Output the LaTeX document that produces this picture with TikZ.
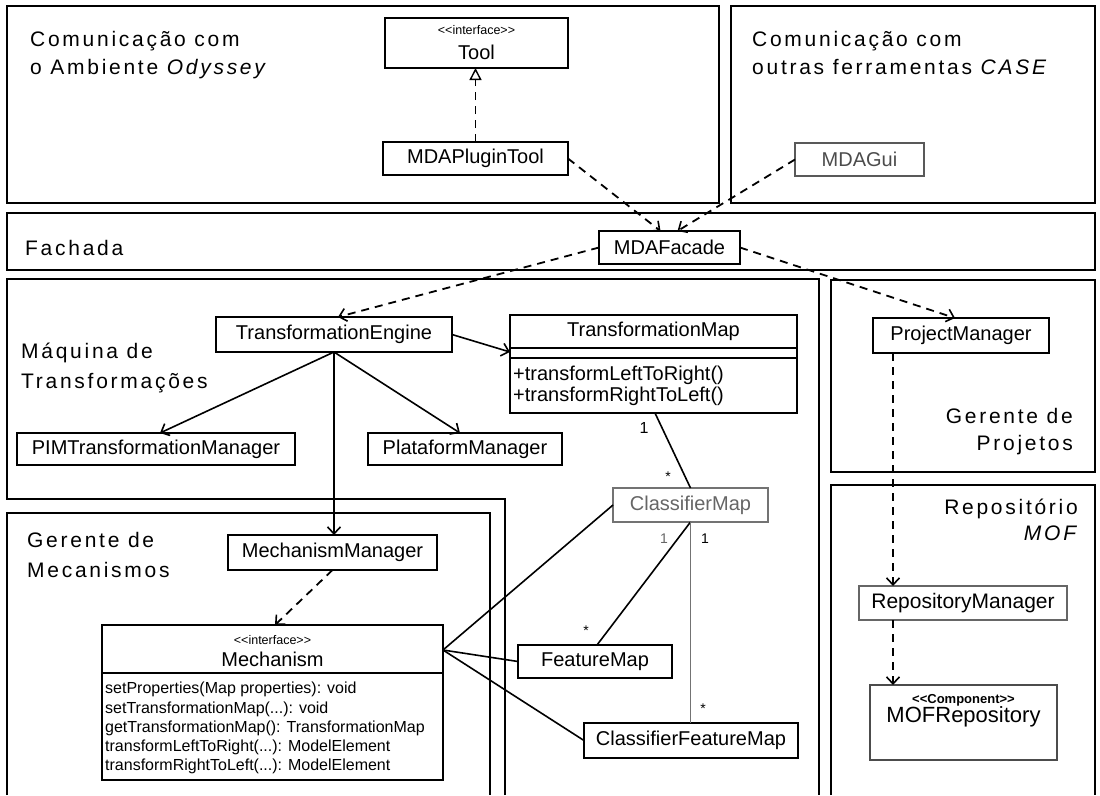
\documentclass[tikz,border=0pt]{standalone}
\usepackage{fontspec}
\setmainfont{Liberation Sans}
\newfontfamily\spacedfont[LetterSpace=13]{Liberation Sans}
\usetikzlibrary{arrows.meta,calc}
\newcommand\hdfont{\spacedfont\fontsize{21}{28}\selectfont}
\newcommand\boxfont{\fontsize{20}{24}\selectfont}
\newcommand\opfont{\fontsize{16}{19}\selectfont}
\newcommand\stereofont{\fontsize{12.5}{14}\selectfont}
% kerns keep the font mapping from merging the brackets into guillemets
\newcommand\stereo[1]{\textless\kern0pt\textless\kern0pt #1\kern0pt\textgreater\kern0pt\textgreater}
\begin{document}
\begin{tikzpicture}[x=1pt,y=-1pt,
  panel/.style={draw=black, line width=1.5pt},
  box/.style={draw=black, fill=white, line width=1.5pt, inner sep=0pt, outer sep=0pt,
              anchor=north west, font=\boxfont},
  hd/.style={inner sep=0pt, font=\hdfont},
  lbl/.style={inner sep=0pt},
  dep/.style={line width=1.8pt, dash pattern=on 8pt off 6pt,
              -{Straight Barb[length=7pt,width=13pt,line width=1.6pt]}},
  real/.style={line width=1.8pt, dash pattern=on 8pt off 6pt,
              -{Triangle[open,length=12pt,width=12pt,line width=1.4pt]}},
  nav/.style={line width=1.6pt, -{Straight Barb[length=7pt,width=13pt,line width=1.6pt]}},
  assoc/.style={line width=1.6pt},
  mult/.style={inner sep=0pt, font=\fontsize{14}{14}\selectfont}]

\fill[white] (0,0) rectangle (1100,795);
\useasboundingbox (0,0) rectangle (1100,795);

% ---- package frames
\draw[panel] (7,6) rectangle (719,203);
\draw[panel] (731,6) rectangle (1095,203);
\draw[panel] (7,213) rectangle (1095,270);
\draw[panel] (505,795) -- (505,499) -- (7,499) -- (7,279) -- (819,279) -- (819,795);
\draw[panel] (7,795) -- (7,513) -- (490,513) -- (490,795);
\draw[panel] (831,280) rectangle (1095,472);
\draw[panel] (831,795) -- (831,485) -- (1095,485) -- (1095,795);

% ---- package titles
\node[hd, anchor=base west] (odyA) at (30,46) {Comunicação com};
\node[hd, anchor=base west] (odyB) at (30,74) {o Ambiente \textit{Odyssey}};
\node[hd, anchor=base west] (caseA) at (752,46) {Comunicação com};
\node[hd, anchor=base west] (caseB) at (752,74) {outras ferramentas \textit{CASE}};
\node[hd, anchor=base west] (fach) at (25,255) {Fachada};
\node[hd, anchor=base west] (maqA) at (21,358) {Máquina de};
\node[hd, anchor=base west] (maqB) at (21,388) {Transformações};
\node[hd, anchor=base west] (gmA) at (27,547) {Gerente de};
\node[hd, anchor=base west] (gmB) at (27,577) {Mecanismos};
\node[hd, anchor=base east] (gpA) at (1073,423) {Gerente de};
\node[hd, anchor=base east] (gpB) at (1073,450) {Projetos};
\node[hd, anchor=base east] (repA) at (1078,514) {Repositório};
\node[hd, anchor=base east] (repB) at (1080,540) {\textit{MOF}};

% ---- classes
\node[box, minimum width=183pt, minimum height=50pt] (tool) at (385,18) {};
\node[lbl, font=\stereofont] (toolst) at (476.5,30) {\stereo{interface}};
\node[lbl, font=\boxfont] (toolnm) at (476.5,52) {Tool};

\node[box, minimum width=185pt, minimum height=33pt] (pt) at (383,142) {MDAPluginTool};
\node[box, minimum width=129pt, minimum height=33pt, draw=black!65, text=black!70] (gui) at (795,143) {MDAGui};
\node[box, minimum width=141pt, minimum height=33pt] (facade) at (599,231) {MDAFacade};
\node[box, minimum width=236pt, minimum height=35pt] (engine) at (216,317) {TransformationEngine};

\node[box, minimum width=287pt, minimum height=98pt] (tmap) at (510,315) {};
\draw[line width=1.2pt] (510,348) -- (797,348);
\draw[line width=1.2pt] (510,358) -- (797,358);
\node[lbl, font=\boxfont] (tmapnm) at (653.5,331) {TransformationMap};
\node[lbl, font=\boxfont, anchor=base west] (tmapop1) at (513,380) {+transformLeftToRight()};
\node[lbl, font=\boxfont, anchor=base west] (tmapop2) at (513,401) {+transformRightToLeft()};

\node[box, minimum width=278pt, minimum height=32pt] (pim) at (17,433) {PIMTransformationManager};
\node[box, minimum width=194pt, minimum height=32pt] (plat) at (368,433) {PlataformManager};
\node[box, minimum width=155pt, minimum height=34pt, draw=black!55, text=black!60] (cmap) at (613,488) {ClassifierMap};
\node[box, minimum width=209pt, minimum height=35pt] (mm) at (228,535) {MechanismManager};

\node[box, minimum width=341pt, minimum height=155pt] (mech) at (102,625) {};
\draw[line width=1.2pt] (102,673) -- (443,673);
\node[lbl, font=\stereofont] (mechst) at (272.5,640) {\stereo{interface}};
\node[lbl, font=\boxfont] (mechnm) at (272.5,659) {Mechanism};
\node[lbl, font=\opfont, anchor=base west] (mop1) at (105,693) {setProperties(Map properties): void};
\node[lbl, font=\opfont, anchor=base west] (mop2) at (105,713) {setTransformationMap(...): void};
\node[lbl, font=\opfont, anchor=base west] (mop3) at (105,732) {getTransformationMap(): TransformationMap};
\node[lbl, font=\opfont, anchor=base west] (mop4) at (105,751) {transformLeftToRight(...): ModelElement};
\node[lbl, font=\opfont, anchor=base west] (mop5) at (105,770) {transformRightToLeft(...): ModelElement};

\node[box, minimum width=154pt, minimum height=33pt] (fmap) at (518,645) {FeatureMap};
\node[box, minimum width=214pt, minimum height=35pt] (cfmap) at (584,723) {ClassifierFeatureMap};

\node[box, minimum width=176pt, minimum height=35pt] (pm) at (873,318) {ProjectManager};
\node[box, minimum width=208pt, minimum height=34pt, draw=black!60, font=\fontsize{21}{24}\selectfont] (rm) at (859,586) {RepositoryManager};
\node[box, minimum width=187pt, minimum height=75pt, draw=black!70] (mof) at (870,685) {};
\node[lbl, font=\bfseries\fontsize{13}{15}\selectfont] (mofst) at (963.5,700) {\stereo{Component}};
\node[lbl, font=\fontsize{22}{24}\selectfont] (mofnm) at (963.5,717) {MOFRepository};

% ---- relations
\draw[real] (pt.north) -- (pt.north |- tool.south);
\draw[dep] (pt.east) -- ($(facade.north)+(-9,0)$);
\draw[dep] (gui.west) -- ($(facade.north)+(8,0)$);
\draw[dep] (facade.west) -- ($(engine.north west)+(122,0)$);
\draw[dep] (facade.east) -- ($(pm.north west)+(82,0)$);
\draw[nav] (engine.east) -- ($(tmap.north west)+(0,37)$);
\draw[nav] (engine.south) -- ($(pim.north west)+(143,0)$);
\draw[nav] (engine.south) -- ($(plat.north west)+(92,0)$);
\draw[nav, line width=1.2pt] (engine.south) -- (engine.south |- mm.north);
\draw[dep] (mm.south) -- ($(mech.north west)+(173,0)$);

\draw[assoc] ($(tmap.south west)+(145,0)$) -- (cmap.north);
\draw[assoc] (cmap.south) -- ($(fmap.north west)+(79,0)$);
\draw[assoc, draw=black!55] (cmap.south) -- (cmap.south |- cfmap.north);
\coordinate (mj) at ($(mech.north east)+(0,25)$);
\draw[assoc] (mj) -- (cmap.west);
\draw[assoc] (mj) -- (fmap.west);
\draw[assoc] (mj) -- (cfmap.west);

\coordinate (pmx) at ($(pm.south west)+(20,0)$);
\draw[dep] (pmx) -- (pmx |- rm.north);
\draw[dep] (pmx |- rm.south) -- (pmx |- mof.north);

% ---- multiplicities
\node[mult, font=\fontsize{16}{16}\selectfont] (m1) at (644,428) {1};
\node[mult] (m2) at (668,477) {*};
\node[mult, text=black!60] (m3) at (664,539) {1};
\node[mult] (m4) at (586,631) {*};
\node[mult] (m5) at (705,539) {1};
\node[mult] (m6) at (703,709) {*};
\end{tikzpicture}
\end{document}
